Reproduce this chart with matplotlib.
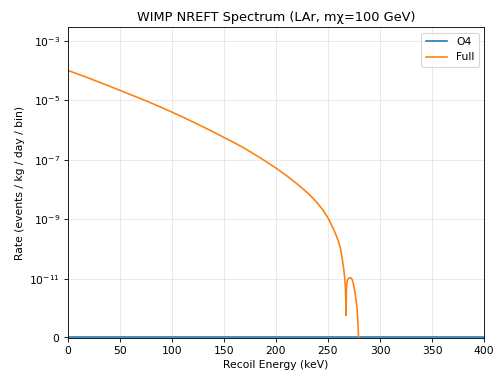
import numpy as np
import matplotlib
matplotlib.use("Agg")
import matplotlib.pyplot as plt

# recoil energy (keV) and rate (events / kg / day / bin)
o4_energy = [0, 400]
o4_rate = [0.0, 0.0]

full_energy = [0, 10, 20, 30, 40, 50, 60, 70, 80, 90,
               100, 110, 120, 130, 140, 150, 160, 170, 180, 190,
               200, 210, 220, 230, 235, 240, 245, 250, 255, 258, 260,
               262, 263.5, 265, 266.2, 266.8, 267.2, 267.4,
               267.8, 268.5, 269.5, 270.5, 271.4, 272.5, 273.5, 274.6,
               275.8, 277, 278, 278.8, 279.4]
full_rate = [1.0e-4, 7.41e-5, 5.50e-5, 4.03e-5, 2.95e-5, 2.14e-5, 1.55e-5, 1.12e-5, 8.04e-6, 5.69e-6,
             3.98e-6, 2.75e-6, 1.88e-6, 1.27e-6, 8.51e-7, 5.62e-7, 3.72e-7, 2.40e-7, 1.48e-7, 8.91e-8,
             5.25e-8, 2.95e-8, 1.58e-8, 7.94e-9, 5.37e-9, 3.47e-9, 2.09e-9, 1.12e-9, 5.0e-10, 2.82e-10, 1.82e-10,
             1.05e-10, 5.25e-11, 2.40e-11, 1.0e-11, 4.5e-12, 1.5e-12, 0.76e-12,
             5e-12, 8.5e-12, 1.0e-11, 1.08e-11, 1.1e-11, 1.05e-11, 9e-12, 6.5e-12,
             3.8e-12, 2.0e-12, 1.0e-12, 0.5e-12, 0.0]

yticks = [0, 1e-11, 1e-9, 1e-7, 1e-5, 1e-3]

fig = plt.figure(figsize=(6.4, 4.813), dpi=77.5)
ax = fig.add_axes([0.137, 0.0925, 0.8388, 0.8343])
ax.plot(o4_energy, o4_rate, label='O4')
ax.plot(full_energy, full_rate, label='Full')
ax.set_yscale('symlog', linthresh=1e-12, linscale=0.87)
ax.set_yticks(yticks)
ax.yaxis.set_minor_locator(matplotlib.ticker.NullLocator())
ax.set_xlim(0, 400)
ax.set_ylim(-3.5e-14, 2.8e-3)
ax.set_xlabel('Recoil Energy (keV)')
ax.set_ylabel('Rate (events / kg / day / bin)')
ax.set_title('WIMP NREFT Spectrum (LAr, mχ=100 GeV)')
ax.grid(True, alpha=0.3)
ax.legend(loc='upper right')
fig.savefig('out.png', dpi=77.5)
